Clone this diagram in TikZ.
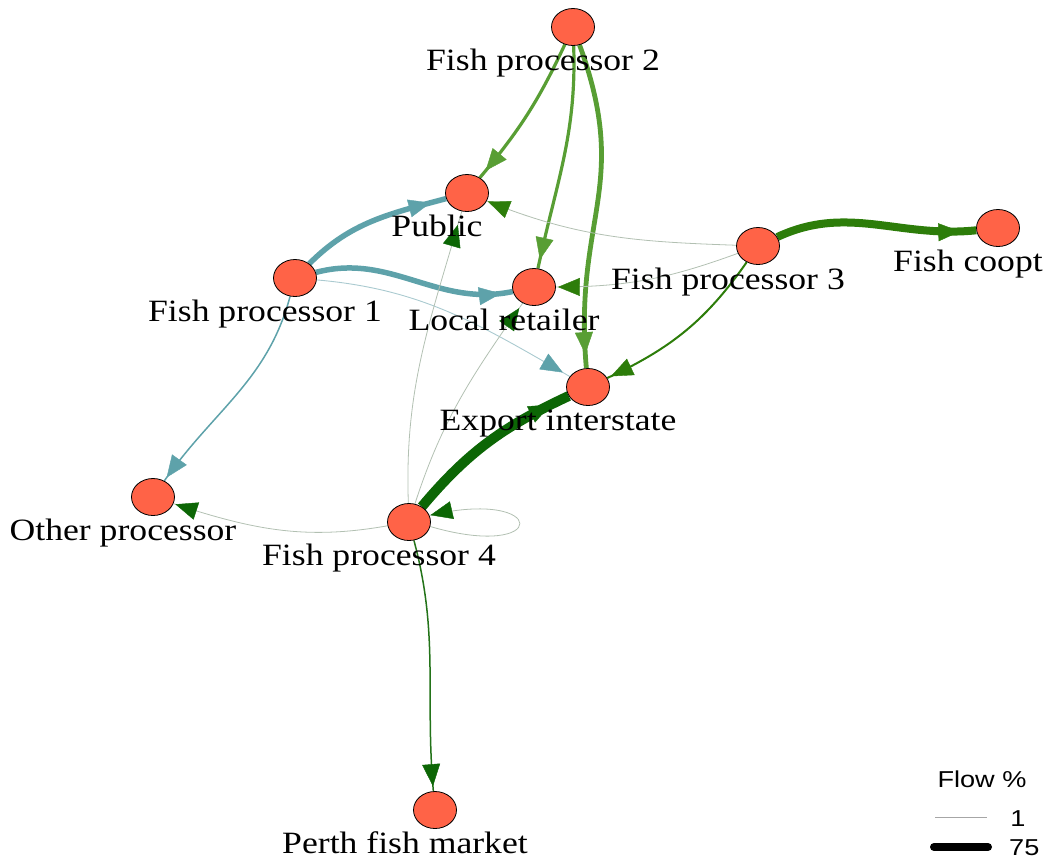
\documentclass[tikz,border=0pt]{standalone}
\usepackage{fontspec}
\setmainfont{Liberation Serif}
\newfontfamily\lsans{Liberation Sans}
\usetikzlibrary{shapes.geometric,arrows.meta,decorations.markings,backgrounds}
\definecolor{cteal}{RGB}{94,162,170}
\definecolor{cteallt}{RGB}{170,202,208}
\definecolor{clgreen}{RGB}{88,158,52}
\definecolor{cdgreen}{RGB}{45,125,10}
\definecolor{cvdgreen}{RGB}{12,102,5}
\definecolor{cpgreen}{RGB}{35,115,25}
\definecolor{cthin}{RGB}{178,192,178}
\definecolor{cnode}{RGB}{255,99,71}
\tikzset{
  vtx/.style={ellipse,draw=black,line width=0.8pt,fill=cnode,minimum width=43pt,minimum height=37pt,inner sep=0pt},
  lbl/.style={font=\fontsize{31}{31}\selectfont,xscale=1.15,anchor=base,inner sep=0pt},
  leg/.style={font=\lsans\fontsize{23}{23}\selectfont,xscale=1.18,inner sep=0pt},
  tip/.style 2 args={postaction={decorate,decoration={markings,mark=at position -#1pt with {\pgfsetlinewidth{0.4pt}\arrow{Triangle[length=22pt,width=18pt,color=#2]}}}}},
}
\begin{document}
\begin{tikzpicture}[x=1pt,y=1pt]
\useasboundingbox (0,0) rectangle (1049,-863);
% vertices
\node[vtx] (FP2) at (573,-27) {};
\node[vtx] (Pub) at (467,-193) {};
\node[vtx] (LR) at (534,-287) {};
\node[vtx] (EI) at (588,-387) {};
\node[vtx] (FP1) at (295,-278) {};
\node[vtx] (FP3) at (758,-246) {};
\node[vtx] (FC) at (998,-228) {};
\node[vtx] (OP) at (153,-497) {};
\node[vtx] (FP4) at (409,-522) {};
\node[vtx] (PF) at (435,-810) {};
% edges
\begin{scope}[on background layer]
% from Fish processor 1
\draw[cteal,line width=5.5pt,tip={16}{cteal}] (FP1) to[out=45,in=195] (Pub);
\draw[cteal,line width=5.5pt,tip={12}{cteal}] (FP1) to[out=15,in=192] (LR);
\draw[cteallt,line width=0.9pt,tip={8}{cteal}] (FP1) to[out=-5,in=150] (EI);
\draw[cteal,line width=1.5pt,tip={4}{cteal}] (FP1) to[out=-105,in=55] (OP);
% from Fish processor 2
\draw[clgreen,line width=3.2pt,tip={9}{clgreen}] (FP2) to[out=-115,in=50] (Pub);
\draw[clgreen,line width=3.2pt,tip={9}{clgreen}] (FP2) to[out=-88,in=78] (LR);
\draw[clgreen,line width=4.8pt,tip={14}{clgreen}] (FP2) to[out=-70,in=95,looseness=1.2] (EI);
% from Fish processor 3
\draw[cdgreen,line width=8pt,tip={16}{cdgreen}] (FP3) to[out=25,in=186] (FC);
\draw[cdgreen,line width=2pt,tip={4}{cdgreen}] (FP3) to[out=-125,in=25] (EI);
\draw[cthin,line width=0.8pt,tip={2}{cdgreen}] (FP3) to[out=200,in=0] (LR);
\draw[cthin,line width=0.8pt,tip={1}{cdgreen}] (FP3) to[out=178,in=-22] (Pub);
% from Fish processor 4
\draw[cvdgreen,line width=10pt,tip={20}{cvdgreen}] (FP4) to[out=50,in=205] (EI);
\draw[cthin,line width=0.8pt,tip={2}{cvdgreen}] (FP4) to[out=190,in=-18] (OP);
\draw[cthin,line width=0.8pt,tip={1}{cvdgreen}] (FP4.-12) .. controls +(120,-35) and +(120,28) .. (FP4.18);
\draw[cpgreen,line width=1.5pt,tip={5}{cvdgreen}] (FP4) to[out=-75,in=95] (PF);
\draw[cthin,line width=0.8pt,tip={14}{cvdgreen}] (FP4) to[out=92,in=-106] (Pub);
\draw[cthin,line width=0.8pt,tip={6}{cvdgreen}] (FP4) to[out=72,in=-125] (LR);
\end{scope}
% labels
\node[lbl] (FP2l) at (543,-70) {Fish processor 2};
\node[lbl] (Publ) at (437,-236) {Public};
\node[lbl] (LRl) at (504,-330) {Local retailer};
\node[lbl] (EIl) at (558,-430) {Export interstate};
\node[lbl] (FP1l) at (265,-321) {Fish processor 1};
\node[lbl] (FP3l) at (728,-289) {Fish processor 3};
\node[lbl] (FCl) at (968,-271) {Fish coopt};
\node[lbl] (OPl) at (123,-540) {Other processor};
\node[lbl] (FP4l) at (379,-565) {Fish processor 4};
\node[lbl] (PFl) at (405,-853) {Perth fish market};
% legend
\node[leg,anchor=base] (legt) at (982,-787) {Flow \%};
\coordinate (l1a) at (935,-817);
\coordinate (l1b) at (987,-817);
\draw[gray!70,line width=1pt] (l1a) -- (l1b);
\node[leg,anchor=base west] (l1) at (1010,-826) {1};
\coordinate (l2a) at (934,-847);
\coordinate (l2b) at (988,-847);
\draw[black,line width=8pt,line cap=round] (l2a) -- (l2b);
\node[leg,anchor=base west] (l2) at (1009,-855) {75};
\end{tikzpicture}
\end{document}
